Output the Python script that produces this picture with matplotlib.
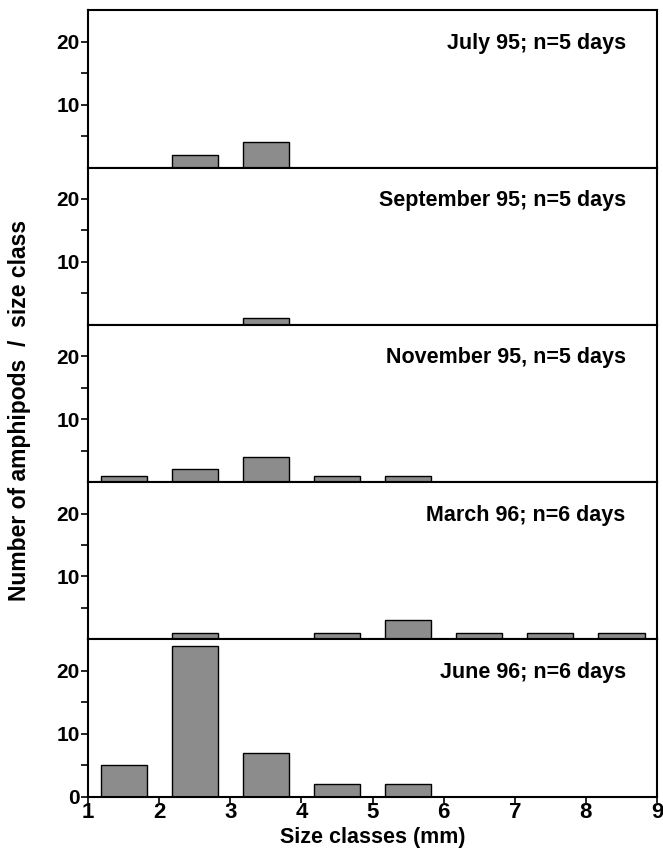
import matplotlib
matplotlib.use('Agg')
import matplotlib.pyplot as plt
import numpy as np

plt.rcParams['font.family'] = ['Liberation Sans', 'DejaVu Sans']
plt.rcParams['font.weight'] = 'bold'

# 数据
size_classes = [1.5, 2.5, 3.5, 4.5, 5.5, 6.5, 7.5, 8.5]
titles = ['July 95; n=5 days', 'September 95; n=5 days', 'November 95, n=5 days',
          'March 96; n=6 days', 'June 96; n=6 days']
july = [0, 2, 4, 0, 0, 0, 0, 0]
september = [0, 0, 1, 0, 0, 0, 0, 0]
november = [1, 2, 4, 1, 1, 0, 0, 0]
march = [0, 1, 0, 1, 3, 1, 1, 1]
june = [5, 24, 7, 2, 2, 0, 0, 0]
counts = [july, september, november, march, june]

fig, axes = plt.subplots(5, 1, figsize=(6.63, 8.52), sharex=True,
                         gridspec_kw={'hspace': 0})
fig.subplots_adjust(left=0.133, right=0.991, top=0.988, bottom=0.065)

for i, ax in enumerate(axes):
    ax.bar(size_classes, counts[i], width=0.65, color='#8c8c8c',
           edgecolor='black', linewidth=1.0, zorder=2)
    ax.set_xlim(1, 9)
    ax.set_ylim(0, 25)
    ax.set_yticks([10, 20] if i < 4 else [0, 10, 20])
    ax.set_yticks([5, 15], minor=True)
    ax.tick_params(axis='y', which='both', direction='out', length=5, width=1.2,
                   labelsize=15, pad=1)
    ax.tick_params(axis='x', direction='out', length=4, width=1.2, labelsize=16, pad=0)
    for s in ax.spines.values():
        s.set_linewidth(1.5)
    ax.text(0.945, 0.79, titles[i], transform=ax.transAxes, ha='right',
            va='center', fontsize=15.5, fontweight='bold')

axes[-1].set_xticks(range(1, 10))
axes[-1].set_xlabel('Size classes (mm)', fontsize=15.5, fontweight='bold', labelpad=3)
fig.text(0.03, 0.518, 'Number of amphipods  /  size class', rotation=90,
         ha='center', va='center', fontsize=16.5, fontweight='bold')

plt.savefig('out.png', dpi=100)
